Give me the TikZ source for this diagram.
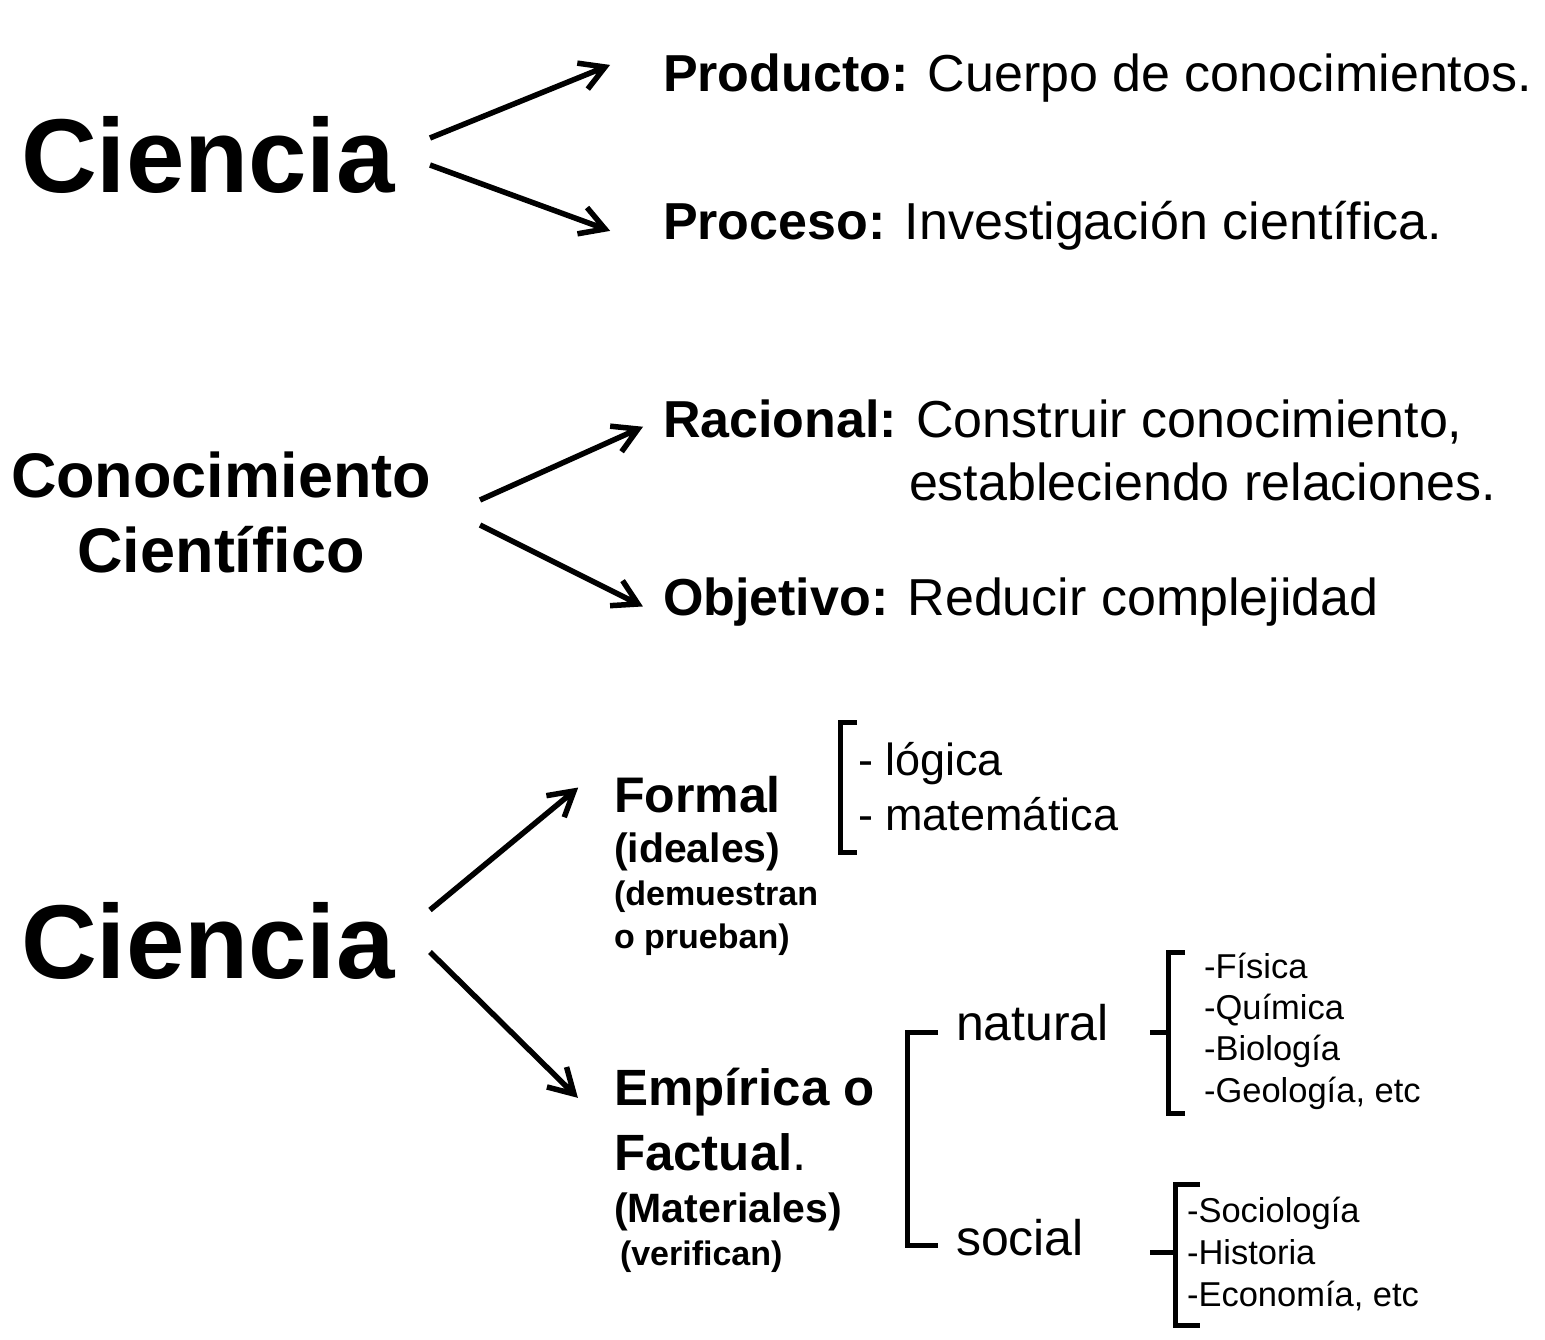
\documentclass[tikz,border=0pt]{standalone}
\usepackage{fontspec}
\setmainfont{Liberation Sans}
\usetikzlibrary{calc}
\newcommand{\myarrow}[2]{\draw[arr] (#1) -- (#2) ($(#2)!28pt!30:(#1)$) -- (#2) -- ($(#2)!28pt!-30:(#1)$);}
\begin{document}
\begin{tikzpicture}[x=1pt,y=-1pt,
  txt/.style={anchor=base west,inner sep=0pt,outer sep=0pt},
  ctxt/.style={anchor=base,inner sep=0pt,outer sep=0pt},
  arr/.style={line width=5.5pt,line cap=butt,line join=miter,miter limit=4},
  brk/.style={line width=5pt,line cap=butt,line join=miter}]
\useasboundingbox (0,0) rectangle (1545,1340);
% --- top group
\node[txt,font=\fontsize{105}{110}\selectfont\bfseries] (cien1) at (21,193) {Ciencia};
\node[txt,font=\fontsize{52}{60}\selectfont] (prod) at (663,92) {{\bfseries Producto:} Cuerpo de conocimientos.};
\node[txt,font=\fontsize{52}{60}\selectfont] (proc) at (663,240) {{\bfseries Proceso:} Investigación científica.};
\coordinate (a1s) at (430,138); \coordinate (a1e) at (605,67);
\coordinate (a2s) at (430,165); \coordinate (a2e) at (605,229);
\myarrow{a1s}{a1e}
\myarrow{a2s}{a2e}
% --- middle group
\node[ctxt,font=\fontsize{63}{70}\selectfont\bfseries] (conoc) at (221,497) {Conocimiento};
\node[ctxt,font=\fontsize{63}{70}\selectfont\bfseries] (cient) at (221,572) {Científico};
\node[txt,font=\fontsize{52}{60}\selectfont] (rac) at (663,437) {{\bfseries Racional:} Construir conocimiento,};
\node[txt,font=\fontsize{52}{60}\selectfont] (rac2) at (909,500) {estableciendo relaciones.};
\node[txt,font=\fontsize{52}{60}\selectfont] (obj) at (663,615) {{\bfseries Objetivo:} Reducir complejidad};
\coordinate (b1s) at (480,500); \coordinate (b1e) at (638,429);
\coordinate (b2s) at (480,525); \coordinate (b2e) at (638,604);
\myarrow{b1s}{b1e}
\myarrow{b2s}{b2e}
% --- bottom group
\node[txt,font=\fontsize{105}{110}\selectfont\bfseries] (cien2) at (21,978) {Ciencia};
\coordinate (c1s) at (430,910); \coordinate (c1e) at (574,791);
\coordinate (c2s) at (430,952); \coordinate (c2e) at (574,1094);
\myarrow{c1s}{c1e}
\myarrow{c2s}{c2e}
\node[txt,font=\fontsize{50}{56}\selectfont\bfseries] (formal) at (614,812) {Formal};
\node[txt,font=\fontsize{41}{48}\selectfont\bfseries] (ideal) at (614,862) {(ideales)};
\node[txt,font=\fontsize{34}{40}\selectfont\bfseries] (demu) at (614,905) {(demuestran};
\node[txt,font=\fontsize{34}{40}\selectfont\bfseries] (prue) at (614,948) {o prueban)};
\node[txt,font=\fontsize{51}{56}\selectfont\bfseries] (empi) at (614,1105) {Empírica o};
\node[txt,font=\fontsize{51}{56}\selectfont] (fact) at (614,1170) {{\bfseries Factual}.};
\node[txt,font=\fontsize{41}{48}\selectfont\bfseries] (mate) at (614,1222) {(Materiales)};
\node[txt,font=\fontsize{34}{40}\selectfont\bfseries] (veri) at (620,1265) {(verifican)};
% formal bracket and items
\draw[brk] (857,722) -- (840,722) -- (840,852) -- (857,852);
\node[txt,font=\fontsize{45}{50}\selectfont] (log) at (858,775) {- lógica};
\node[txt,font=\fontsize{45}{50}\selectfont] (mat) at (858,830) {- matemática};
% empirical bracket
\draw[brk] (938,1032) -- (907,1032) -- (907,1245) -- (938,1245);
\node[txt,font=\fontsize{50}{56}\selectfont] (nat) at (956,1040) {natural};
\node[txt,font=\fontsize{50}{56}\selectfont] (soc) at (956,1255) {social};
% natural brace
\draw[brk] (1150,1032) -- (1168,1032);
\draw[brk] (1185,952) -- (1168,952) -- (1168,1113) -- (1185,1113);
\node[txt,font=\fontsize{34.5}{40}\selectfont] (fis) at (1204,978) {-Física};
\node[txt,font=\fontsize{34.5}{40}\selectfont] (qui) at (1204,1019) {-Química};
\node[txt,font=\fontsize{34.5}{40}\selectfont] (bio) at (1204,1060) {-Biología};
\node[txt,font=\fontsize{34.5}{40}\selectfont] (geo) at (1204,1102) {-Geología, etc};
% social brace
\draw[brk] (1150,1252) -- (1175,1252);
\draw[brk] (1200,1184) -- (1175,1184) -- (1175,1325) -- (1200,1325);
\node[txt,font=\fontsize{34.5}{40}\selectfont] (socio) at (1187,1222) {-Sociología};
\node[txt,font=\fontsize{34.5}{40}\selectfont] (hist) at (1187,1264) {-Historia};
\node[txt,font=\fontsize{34.5}{40}\selectfont] (econ) at (1187,1306) {-Economía, etc};
\end{tikzpicture}
\end{document}
